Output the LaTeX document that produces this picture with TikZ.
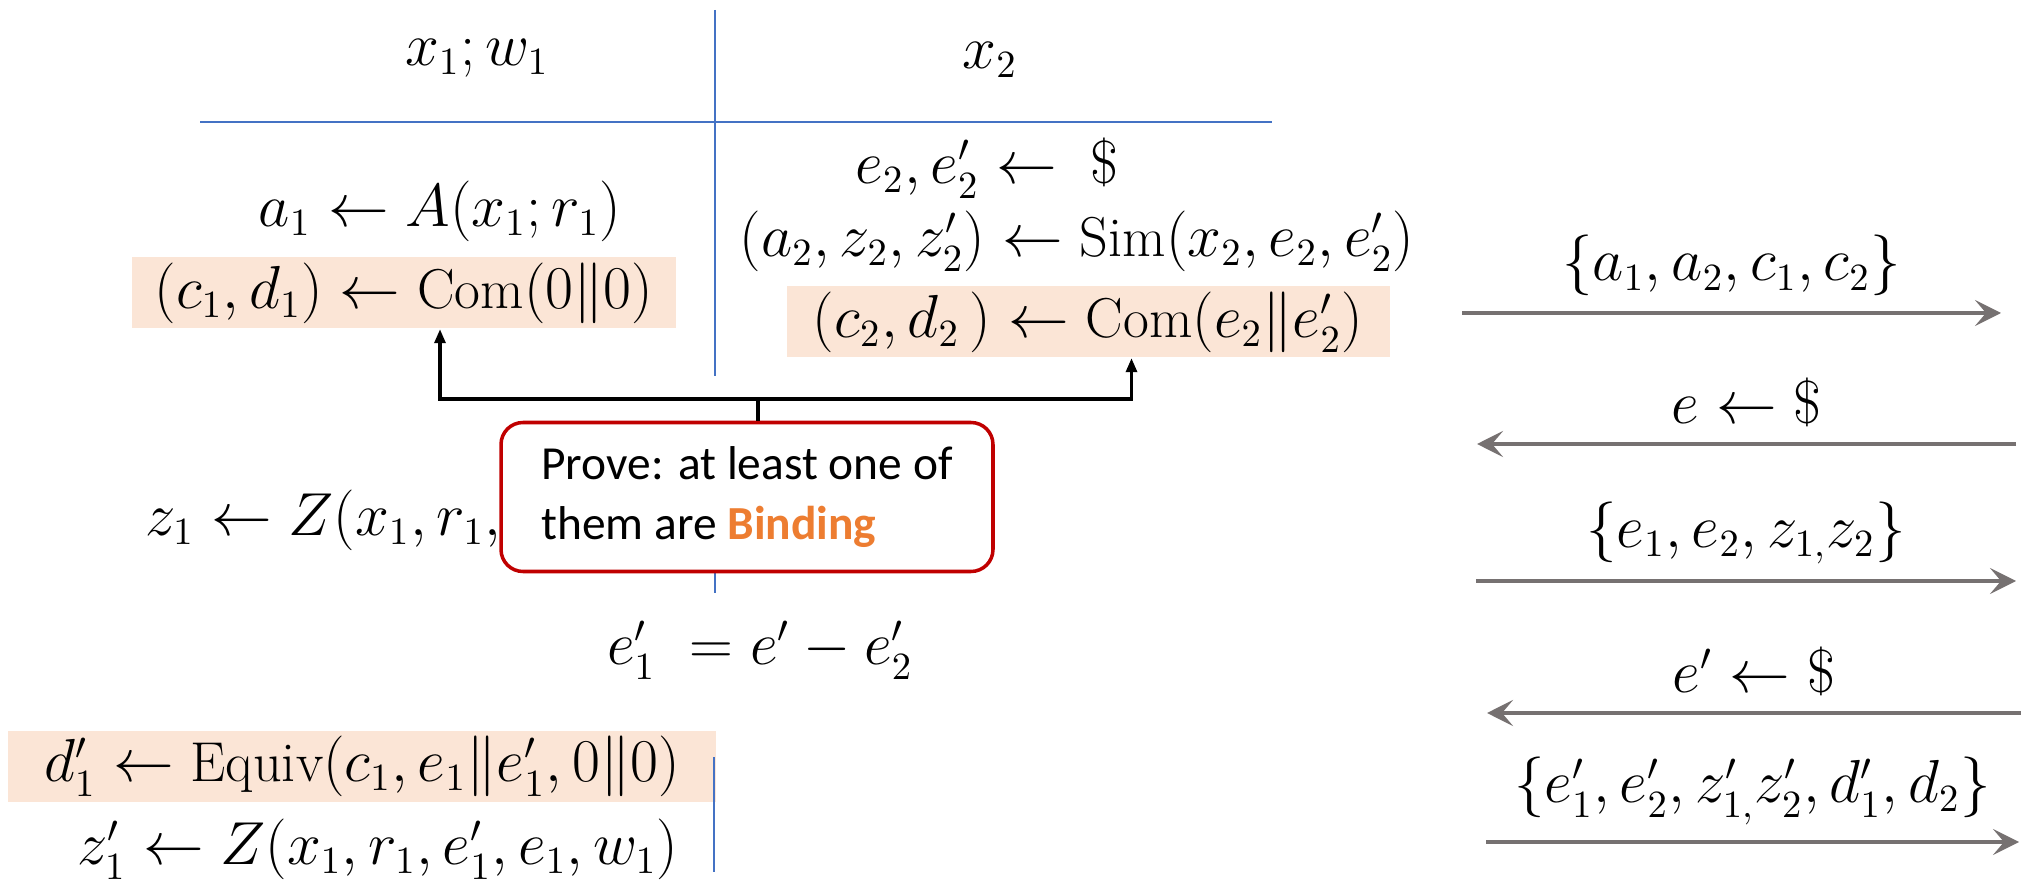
\documentclass[tikz,border=0pt]{standalone}
\usepackage{amsmath,amssymb}
\usepackage{fontspec}
\newfontfamily\calloutfont{Carlito}
\usepackage{xcolor}
\usetikzlibrary{arrows.meta, positioning, calc}

\definecolor{divblue}{HTML}{4472C4}
\definecolor{hlpeach}{HTML}{FBE5D6}
\definecolor{calloutred}{HTML}{C00000}
\definecolor{bindorange}{HTML}{ED7D31}
\definecolor{msggray}{HTML}{767171}

\begin{document}
\begin{tikzpicture}[
    x=0.1mm, y=-0.1mm,
    every node/.style={font=\fontsize{16}{19}\selectfont},
    stmt/.style={inner sep=0pt},
    hlbox/.style={fill=hlpeach, inner sep=0pt, minimum height=7.1mm},
    divider/.style={draw=divblue, line width=0.7pt},
    callout/.style={draw=calloutred, fill=white, line width=1pt, rounded corners=2.2mm,
                    align=left, minimum width=49.2mm, minimum height=14.9mm,
                    font=\calloutfont\fontsize{13.5}{17}\selectfont},
    link/.style={line width=0.9pt},
    linkarrow/.style={line width=0.9pt, -{Triangle[length=1.4mm,width=1.1mm]}},
    msg/.style={draw=msggray, line width=1.2pt, -{Stealth[length=2.6mm,width=2.6mm,inset=1.1mm]}},
    msglabel/.style={above=0.3mm}
  ]
  \useasboundingbox (0,0) rectangle (2021,880);

  \node (hd1) at (477,58) {$x_1; w_1$};
  \node (hd2) at (990,60) {$x_2$};
  \draw[divider] (200,122) -- (1272,122);
  \draw[divider] (715,10) -- (715,376);

  \node[stmt] (a1)  at (440,211) {$a_1 \leftarrow A(x_1; r_1)$};
  \node[hlbox, minimum width=54.4mm] (com1) at (404,293) {$(c_1, d_1) \leftarrow \mathrm{Com}(0\|0)$};
  \node[stmt] (e2)  at (987,168) {$e_2, e_2' \leftarrow\ \$$};
  \node[stmt] (sim) at (1077,241) {$(a_2, z_2, z_2') \leftarrow \mathrm{Sim}(x_2, e_2, e_2')$};
  \node[hlbox, minimum width=60.3mm] (com2) at (1088,322) {$(c_2, d_2\,) \leftarrow \mathrm{Com}(e_2\|e_2')$};

  \node[stmt, anchor=west] (z1) at (145,520) {$z_1 \leftarrow Z(x_1, r_1, e_1, w_1)$};
  \node[stmt] (e1p) at (760,650) {$e_1'\ = e' - e_2'$};
  \node[hlbox, minimum width=70.8mm] (equiv) at (362,766) {$d_1' \leftarrow \mathrm{Equiv}(c_1, e_1\|e_1', 0\|0)$};
  \node[stmt] (z1p) at (378,849) {$z_1' \leftarrow Z(x_1, r_1, e_1', e_1, w_1)$};
  \draw[divider] (715,540) -- (715,593);
  \draw[divider] (714,757) -- (714,872);

  \node[callout] (note) at (747,497) {Prove: at least one of\\them are \textcolor{bindorange}{\bfseries Binding}};
  \coordinate (bus) at (758,399);
  \draw[link] (bus) -- (bus |- note.north);
  \draw[linkarrow] (bus) -| ([xshift=3.6mm]com1.south);
  \draw[linkarrow] (bus) -| ([xshift=4.35mm]com2.south);

  \coordinate (m1a) at (1462,313); \coordinate (m1b) at (2001,313);
  \coordinate (m2a) at (2016,444); \coordinate (m2b) at (1477,444);
  \coordinate (m3a) at (1476,581); \coordinate (m3b) at (2016,581);
  \coordinate (m4a) at (2021,713); \coordinate (m4b) at (1487,713);
  \coordinate (m5a) at (1486,842); \coordinate (m5b) at (2019,842);
  \draw[msg] (m1a) -- node[msglabel] {$\{a_1, a_2, c_1, c_2\}$} (m1b);
  \draw[msg] (m2a) -- node[msglabel] {$e \leftarrow \$$} (m2b);
  \draw[msg] (m3a) -- node[msglabel] {$\{e_1, e_2, z_{1,}z_2\}$} (m3b);
  \draw[msg] (m4a) -- node[msglabel] {$e' \leftarrow \$$} (m4b);
  \draw[msg] (m5a) -- node[msglabel] {$\{e_1', e_2', z'_{1,}z'_2, d_1', d_2\}$} (m5b);
\end{tikzpicture}
\end{document}
